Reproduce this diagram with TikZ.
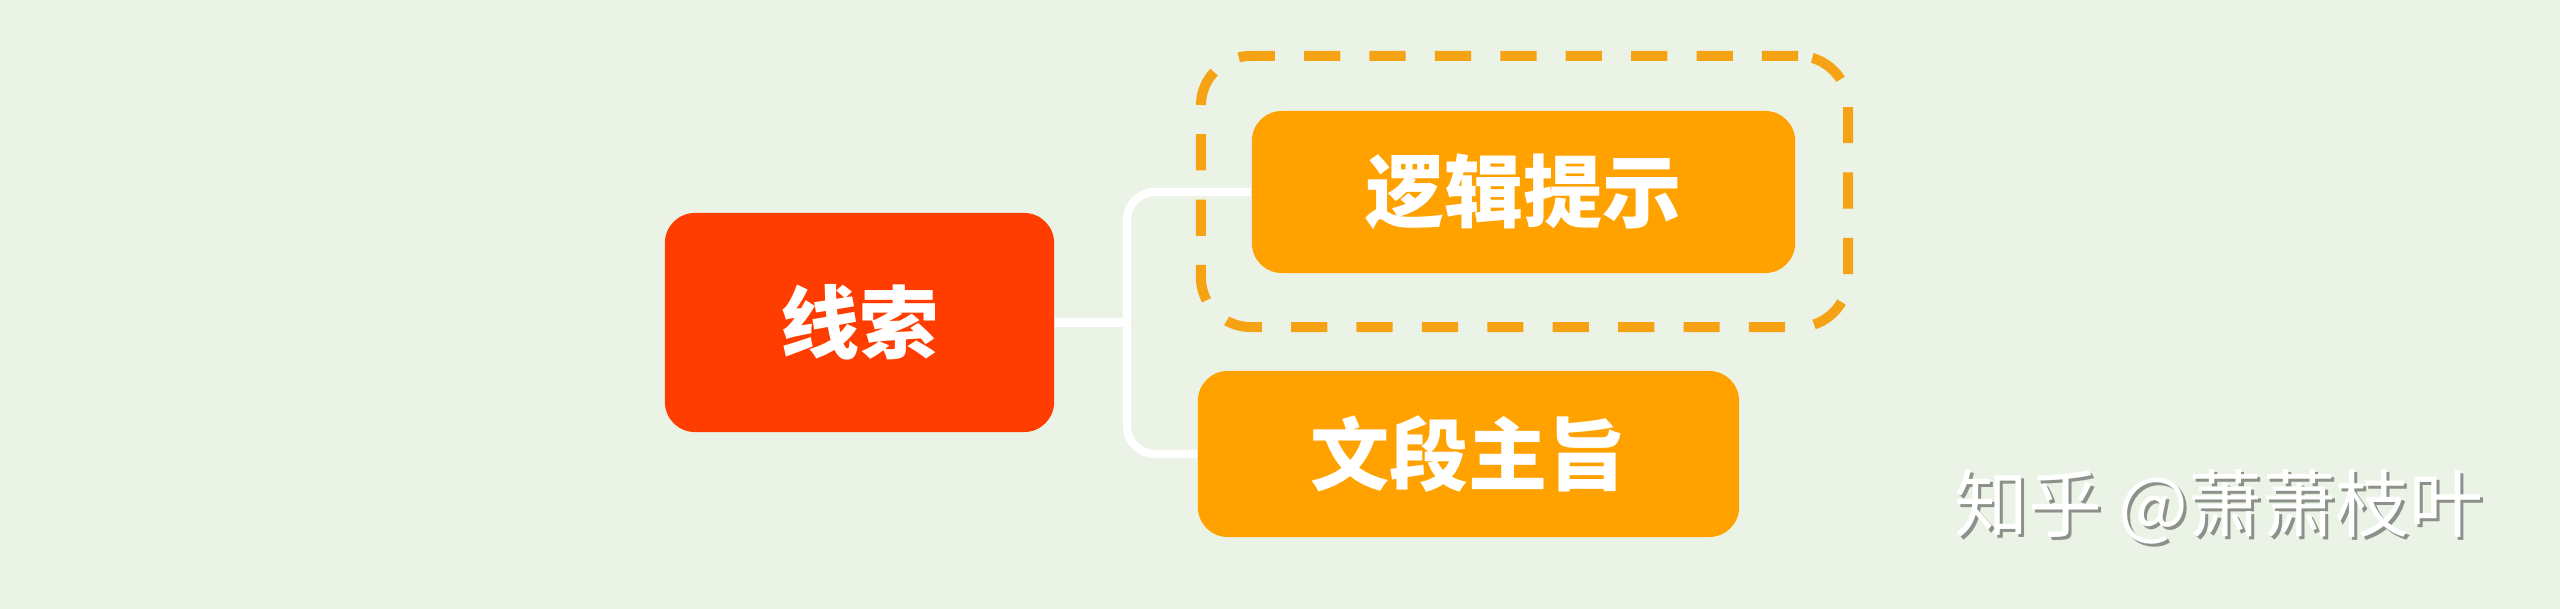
\documentclass[tikz,border=0pt]{standalone}
\usepackage{fontspec}
\newfontfamily\cjk{Noto Sans CJK SC}
\definecolor{bgc}{HTML}{EBF3E6}
\definecolor{redc}{HTML}{FF3D00}
\definecolor{orangec}{HTML}{FFA200}
\definecolor{dashorange}{HTML}{F5A315}
\definecolor{shadowgray}{HTML}{8C918A}
\begin{document}
\begin{tikzpicture}[x=0.01cm,y=-0.01cm,
  box/.style={rounded corners=0.3cm, inner sep=0pt, text=white,
    font=\cjk\bfseries\fontsize{22.5pt}{24pt}\selectfont},
  link/.style={draw=white, line width=2.3pt, rounded corners=0.28cm},
  grpbox/.style={draw=dashorange, line width=2.85pt, dash pattern=on 10.3pt off 8.3pt,
    rounded corners=0.5cm, minimum width=6.47cm, minimum height=2.71cm, inner sep=0pt},
  wmark/.style={inner sep=0pt, font=\cjk\fontsize{21pt}{22pt}\selectfont}]
\fill[bgc] (0,0) rectangle (2560,609);
\node[box, fill=redc, minimum width=3.89cm, minimum height=2.19cm] (root) at (859.5,322.5) {线索};
\node[box, fill=orangec, minimum width=5.43cm, minimum height=1.62cm] (logic) at (1523.5,192) {逻辑提示};
\node[box, fill=orangec, minimum width=5.41cm, minimum height=1.66cm] (main) at (1468.5,454) {文段主旨};
\coordinate (fork) at (1127,322.5);
\draw[link] (root.east) -- (fork);
\draw[link] (fork) |- (logic.west);
\draw[link] (fork) |- (main.west);
\node[grpbox] (grp) at (1524.5,191.5) {};
\node[wmark, text=shadowgray] (wms) at (2222,510) {知乎 @萧萧枝叶};
\node[wmark, text=white] (wm) at (2219,507) {知乎 @萧萧枝叶};
\end{tikzpicture}
\end{document}
